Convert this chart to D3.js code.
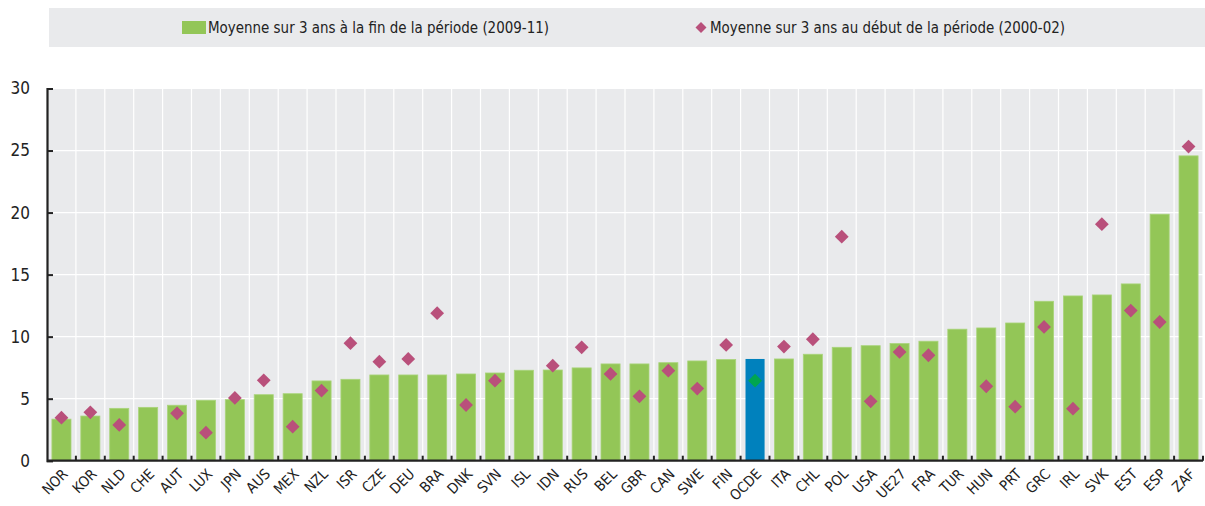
<!DOCTYPE html>
<html>
<head>
<meta charset="utf-8">
<script src="https://cdn.jsdelivr.net/npm/d3@7"></script>
<style>
  body { margin: 0; background: #fff; }
  text { font-family: "Liberation Sans Narrow", "DejaVu Sans Condensed", Arial, sans-serif; fill: #222; }
</style>
</head>
<body>
<div id="chart"></div>
<script>
var countries = ["NOR","KOR","NLD","CHE","AUT","LUX","JPN","AUS","MEX","NZL","ISR","CZE","DEU","BRA","DNK","SVN","ISL","IDN","RUS","BEL","GBR","CAN","SWE","FIN","OCDE","ITA","CHL","POL","USA","UE27","FRA","TUR","HUN","PRT","GRC","IRL","SVK","EST","ESP","ZAF"];

// moyenne 2009-11 (barres)
var endValues = [3.35,3.6,4.22,4.3,4.47,4.87,4.92,5.32,5.4,6.43,6.56,6.91,6.91,6.91,6.99,7.07,7.29,7.31,7.48,7.8,7.8,7.9,8.04,8.15,8.2,8.2,8.58,9.14,9.27,9.44,9.63,10.6,10.7,11.1,12.85,13.28,13.36,14.25,19.87,24.57];

// moyenne 2000-02 (losanges), null = pas de donnée
var startValues = [3.47,3.9,2.88,null,3.82,2.26,5.06,6.48,2.74,5.65,9.47,7.98,8.2,11.89,4.49,6.45,null,7.66,9.14,6.99,5.19,7.26,5.81,9.33,6.45,9.2,9.79,18.06,4.79,8.77,8.5,null,6.0,4.35,10.78,4.19,19.06,12.1,11.18,25.32];

var yTicks = [0,5,10,15,20,25,30];
var legendLabels = ["Moyenne sur 3 ans à la fin de la période (2009-11)", "Moyenne sur 3 ans au début de la période (2000-02)"];

var W = 1205, H = 506;
var margin = { left: 47, right: 2, top: 88.5, bottom: 45.3 };
var width = W - margin.left - margin.right,
    height = H - margin.top - margin.bottom;

var svg = d3.select("#chart").append("svg")
    .attr("width", W)
    .attr("height", H);

// legend
svg.append("rect")
    .attr("x", 49).attr("y", 8)
    .attr("width", W - 49).attr("height", 39)
    .attr("fill", "#e9eaec");

svg.append("rect")
    .attr("x", 182).attr("y", 21)
    .attr("width", 24).attr("height", 13)
    .attr("fill", "#93c657");
svg.append("text")
    .attr("x", 208).attr("y", 33)
    .attr("font-size", "15px")
    .attr("textLength", 341)
    .attr("lengthAdjust", "spacingAndGlyphs")
    .text(legendLabels[0]);

svg.append("path")
    .attr("d", d3.symbol().type(d3.symbolSquare).size(60)())
    .attr("transform", "translate(701,27.5) rotate(45)")
    .attr("fill", "#b9507b");
svg.append("text")
    .attr("x", 710).attr("y", 33)
    .attr("font-size", "15px")
    .attr("textLength", 355)
    .attr("lengthAdjust", "spacingAndGlyphs")
    .text(legendLabels[1]);

var g = svg.append("g")
    .attr("transform", "translate(" + margin.left + "," + margin.top + ")");

var x = d3.scaleBand()
    .domain(countries)
    .range([0, width])
    .paddingInner(0.34)
    .paddingOuter(0.17);

var y = d3.scaleLinear()
    .domain([0, 30])
    .range([height, 0]);

g.append("rect")
    .attr("width", width)
    .attr("height", height)
    .attr("fill", "#e9eaec");

// grid
g.selectAll(".hgrid")
    .data(yTicks.slice(1))
    .enter().append("line")
    .attr("x1", 0).attr("x2", width)
    .attr("y1", function(d){ return y(d); })
    .attr("y2", function(d){ return y(d); })
    .attr("stroke", "#fff")
    .attr("stroke-width", 1.2);

var step = x.step();
g.selectAll(".vgrid")
    .data(d3.range(1, countries.length + 1))
    .enter().append("line")
    .attr("x1", function(i){ return i * step; })
    .attr("x2", function(i){ return i * step; })
    .attr("y1", 0).attr("y2", height)
    .attr("stroke", "#fff")
    .attr("stroke-width", 1.2);

// bars
g.selectAll(".bar")
    .data(countries)
    .enter().append("rect")
    .attr("x", function(d){ return x(d); })
    .attr("width", x.bandwidth())
    .attr("y", function(d, i){ return y(endValues[i]); })
    .attr("height", function(d, i){ return height - y(endValues[i]); })
    .attr("fill", function(d){ return d === "OCDE" ? "#0081bd" : "#93c657"; })
    .attr("stroke", function(d){ return d === "OCDE" ? "none" : "#a9d47a"; })
    .attr("stroke-width", 0.8);

// diamonds
var diamond = d3.symbol().type(d3.symbolSquare).size(95)();
g.selectAll(".dot")
    .data(countries.filter(function(d, i){ return startValues[i] !== null; }))
    .enter().append("path")
    .attr("d", diamond)
    .attr("transform", function(d){
        var i = countries.indexOf(d);
        return "translate(" + (x(d) + x.bandwidth() / 2) + "," + y(startValues[i]) + ") rotate(45)";
    })
    .attr("fill", function(d){ return d === "OCDE" ? "#00a550" : "#b9507b"; });

// axes
var yAxis = d3.axisLeft(y)
    .tickValues(yTicks)
    .tickSize(-6)
    .tickPadding(17);
var ya = g.append("g").call(yAxis);
ya.select(".domain").attr("stroke", "#222").attr("stroke-width", 2.2);
ya.selectAll(".tick line").attr("stroke", "#222").attr("stroke-width", 2);
ya.selectAll(".tick text").attr("font-size", "17px").attr("fill", "#222");

var xa = g.append("g")
    .attr("transform", "translate(0," + height + ")");
xa.append("line")
    .attr("x1", 0).attr("x2", width)
    .attr("stroke", "#222").attr("stroke-width", 2.2);
xa.selectAll(".xt")
    .data(d3.range(1, countries.length + 1))
    .enter().append("line")
    .attr("x1", function(i){ return i * step; })
    .attr("x2", function(i){ return i * step; })
    .attr("y1", 0).attr("y2", -5)
    .attr("stroke", "#222").attr("stroke-width", 2);

xa.selectAll(".xl")
    .data(countries)
    .enter().append("text")
    .attr("text-anchor", "end")
    .attr("font-size", "14.5px")
    .attr("transform", function(d){
        return "translate(" + (x(d) + x.bandwidth() / 2) + ",7) rotate(-45)";
    })
    .attr("dy", "0.71em")
    .text(function(d){ return d; });
</script>
</body>
</html>
